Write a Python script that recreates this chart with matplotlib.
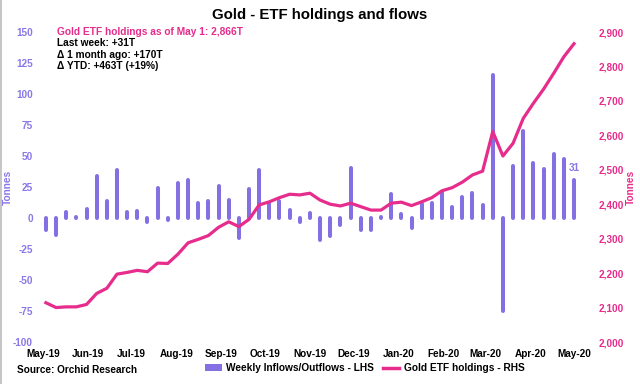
import matplotlib
matplotlib.use("Agg")
import matplotlib.pyplot as plt
import matplotlib.dates as mdates
from matplotlib.patches import Patch
from matplotlib.lines import Line2D
from matplotlib.ticker import FuncFormatter
import pandas as pd

plt.rcParams['font.family'] = ['Liberation Sans', 'DejaVu Sans']
plt.rcParams['font.weight'] = 'bold'
plt.rcParams['axes.unicode_minus'] = False

# ---- data ----
week_dates = pd.date_range("2019-05-03", periods=53, freq="7D")
weekly_flows = [-10, -14, 5, 0.5, 7, 34, 14, 39, 5, 6, -3, 24, -2, 28, 31, 12, 14, 26, 14.5, -16,
                23, 39, 12, 14, 6.5, -3, 4, -18, -14.5, -6, 40, -10, -10, 0.5, 19, 3, -8, 11, 12, 21,
                8.6, 16.7, 20, 10.5, 115, -75, 42, 70, 44, 39.5, 52, 47.6, 31]
holdings = [2114, 2100, 2102, 2102, 2109, 2141, 2156, 2197, 2202, 2208, 2204, 2229, 2228, 2255,
            2288, 2298, 2309, 2333, 2349, 2335, 2356, 2398, 2407, 2419, 2429, 2427, 2432, 2412,
            2400, 2395, 2403, 2393, 2383, 2383, 2403, 2406, 2396, 2407, 2419, 2439, 2448, 2464,
            2485, 2496, 2611, 2540, 2577, 2649, 2693, 2734, 2780, 2828, 2866]
left_ticks = [-100, -75, -50, -25, 0, 25, 50, 75, 100, 125, 150]
right_ticks = [2000, 2100, 2200, 2300, 2400, 2500, 2600, 2700, 2800, 2900]
title = "Gold - ETF holdings and flows"
info_lines = ["Gold ETF holdings as of May 1: 2,866T", "Last week: +31T",
              "\u0394 1 month ago: +170T", "\u0394 YTD: +463T (+19%)"]
last_label = "31"

BAR_C = "#8470E2"
LTICK_C = "#8878E8"
PINK = "#E62C8C"
W, H = 640, 384

fig = plt.figure(figsize=(6.4, 3.84), dpi=100)
ax_l, ax_r, ax_t, ax_b = 37, 590, 32, 342
ax = fig.add_axes([ax_l / W, 1 - ax_b / H, (ax_r - ax_l) / W, (ax_b - ax_t) / H])

ax.vlines(week_dates, 0, weekly_flows, colors=BAR_C, linewidth=2.9, capstyle='round', zorder=2)
ax.set_ylim(-100, 150)
ax.set_yticks(left_ticks)

# x range from pixel mapping
d0 = pd.Timestamp("2019-05-01")
d1 = pd.Timestamp("2020-05-01")
ppd = (574 - 43) / (d1 - d0).days
ax.set_xlim(d0 - pd.Timedelta(days=(43 - ax_l) / ppd), d1 + pd.Timedelta(days=(ax_r - 574) / ppd))
ax.xaxis.set_major_locator(mdates.MonthLocator())
ax.xaxis.set_major_formatter(mdates.DateFormatter("%b-%y"))

ax2 = ax.twinx()
ax2.plot(week_dates, holdings, color=PINK, linewidth=2.3, solid_joinstyle='round', zorder=3)
ax2.set_ylim(2000, 2900)
ax2.set_yticks(right_ticks)
ax2.yaxis.set_major_formatter(FuncFormatter(lambda v, p: f"{int(v):,}"))

for a in (ax, ax2):
    for s in a.spines.values():
        s.set_visible(False)
ax.tick_params(axis='x', length=0, pad=5, labelsize=7.2, labelcolor='black')
ax.tick_params(axis='y', length=0, pad=3, labelsize=7.2, labelcolor=LTICK_C)
ax2.tick_params(axis='y', length=0, pad=6, labelsize=7.2, labelcolor=PINK)

ax.annotate(last_label, (week_dates[-1], weekly_flows[-1]), xytext=(0, 5),
            textcoords='offset points', ha='center', va='bottom', fontsize=7.2,
            color=LTICK_C, fontweight='bold')

fig.text(0.5, 1 - 15 / H, title, ha='center', va='center', fontsize=10.8, fontweight='bold')

ys = [32, 43.3, 54.5, 65.8]
for i, (t, y) in enumerate(zip(info_lines, ys)):
    fig.text(57 / W, 1 - y / H, t, ha='left', va='center', fontsize=7.3, fontweight='bold',
             color=PINK if i == 0 else 'black')

fig.text(8 / W, 1 - 187 / H, "Tonnes", rotation=90, ha='center', va='center', fontsize=7.3,
         fontweight='bold', color=LTICK_C)
fig.text(631 / W, 1 - 187 / H, "Tonnes", rotation=90, ha='center', va='center', fontsize=7.3,
         fontweight='bold', color=PINK)
fig.text(17 / W, 1 - 370 / H, "Source: Orchid Research", ha='left', va='center', fontsize=7.2,
         fontweight='bold')

handles = [Patch(facecolor=BAR_C, edgecolor='none'), Line2D([], [], color=PINK, linewidth=2.5)]
fig.legend(handles, ["Weekly Inflows/Outflows - LHS", "Gold ETF holdings - RHS"],
           loc='center', bbox_to_anchor=(365 / W, 1 - 368 / H), ncol=2, frameon=False,
           fontsize=7.3, handlelength=1.6, handleheight=0.6, handletextpad=0.45,
           columnspacing=0.9, borderpad=0, borderaxespad=0)

fig.add_artist(Line2D([0.8 / W, 0.8 / W], [0, 1], color='#BBBBBB', linewidth=1.2,
                      transform=fig.transFigure))

fig.savefig("out.png", dpi=100)
